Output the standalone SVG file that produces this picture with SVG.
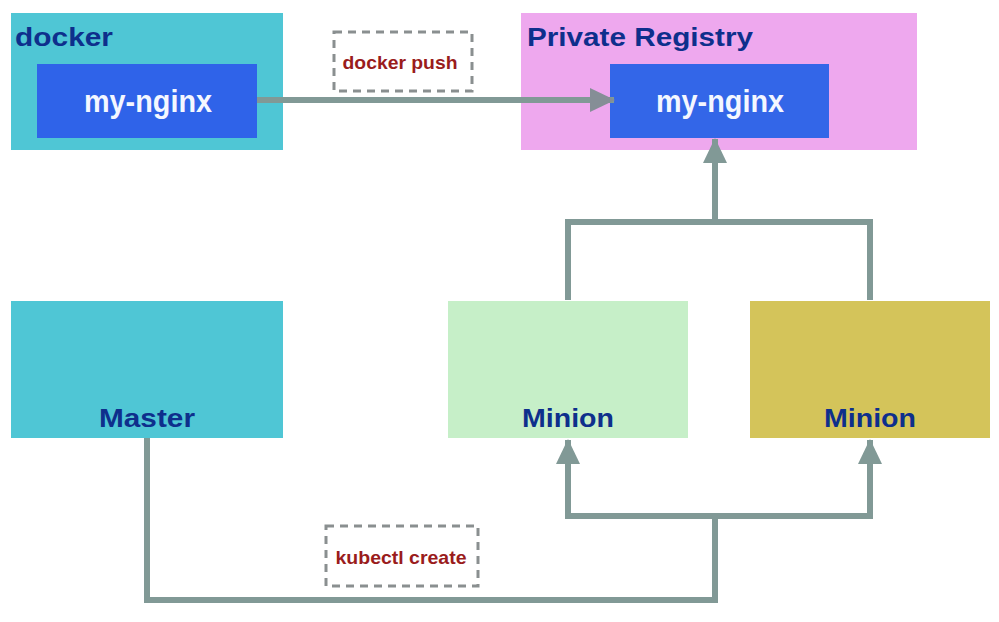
<svg xmlns="http://www.w3.org/2000/svg" width="999" height="622" viewBox="0 0 999 622">
<defs>
<style>
.title{font-family:"Liberation Sans",Arial,sans-serif;font-weight:bold;fill:#0E2F8C;font-size:26px}
.inner{font-family:"Liberation Sans",Arial,sans-serif;font-weight:bold;fill:#F4F7FF;font-size:31px;text-anchor:middle}
.lbl{font-family:"Liberation Sans",Arial,sans-serif;font-weight:bold;fill:#0E2F8C;font-size:26px;text-anchor:middle}
.cmd{font-family:"Liberation Sans",Arial,sans-serif;font-weight:bold;fill:#9A1C1C;font-size:19px;text-anchor:middle}
.dash{fill:#FFFFFF;stroke:#8A8F90;stroke-width:3;stroke-dasharray:8 6}
.wire{fill:none;stroke:#819996;stroke-width:6}
</style>
<marker id="ah" markerUnits="userSpaceOnUse" markerWidth="26" markerHeight="26" viewBox="0 0 26 26" refX="24" refY="13" orient="auto">
<polygon points="0,1 25,13 0,25" fill="#819996"/>
</marker>
<marker id="ah2" markerUnits="userSpaceOnUse" markerWidth="26" markerHeight="26" viewBox="0 0 26 26" refX="24" refY="13" orient="auto">
<polygon points="0,1 25,13 0,25" fill="#858E96"/>
</marker>
</defs>
<rect width="999" height="622" fill="#FFFFFF"/>

<g id="docker">
<rect x="11" y="13" width="272" height="137" fill="#4FC6D5"/>
<text class="title" x="15" y="46" textLength="98" lengthAdjust="spacingAndGlyphs">docker</text>
</g>
<g id="docker-my-nginx">
<rect x="37" y="64" width="220" height="74" fill="#2F63E9"/>
<text class="inner" x="148" y="112" textLength="128" lengthAdjust="spacingAndGlyphs">my-nginx</text>
</g>

<g id="registry">
<rect x="521" y="13" width="396" height="137" fill="#EEA8EE"/>
<text class="title" x="527" y="46" textLength="226" lengthAdjust="spacingAndGlyphs">Private Registry</text>
</g>
<g id="registry-my-nginx">
<rect x="610" y="64" width="219" height="74" fill="#3366E8"/>
<text class="inner" x="720" y="112" textLength="128" lengthAdjust="spacingAndGlyphs">my-nginx</text>
</g>

<g id="master">
<rect x="11" y="301" width="272" height="137" fill="#4FC6D5"/>
<text class="lbl" x="147" y="427" textLength="96" lengthAdjust="spacingAndGlyphs">Master</text>
</g>
<g id="minion1">
<rect x="448" y="301" width="240" height="137" fill="#C6EFC8"/>
<text class="lbl" x="568" y="427" textLength="92" lengthAdjust="spacingAndGlyphs">Minion</text>
</g>
<g id="minion2">
<rect x="750" y="301" width="240" height="137" fill="#D4C45A"/>
<text class="lbl" x="870" y="427" textLength="92" lengthAdjust="spacingAndGlyphs">Minion</text>
</g>

<g id="connectors">
<path class="wire" d="M257,100 H614" stroke="#858E96" marker-end="url(#ah2)"/>
<path class="wire" d="M568,300 V222 H870 V300"/>
<path class="wire" d="M715,222 V139" marker-end="url(#ah)"/>
<path class="wire" d="M147,438 V600 H715 V516"/>
<path class="wire" d="M565,516 H873"/>
<path class="wire" d="M568,519 V440" marker-end="url(#ah)"/>
<path class="wire" d="M870,519 V440" marker-end="url(#ah)"/>
</g>

<g id="label-docker-push">
<rect class="dash" x="334" y="32" width="138" height="59"/>
<text class="cmd" x="400" y="69" textLength="115" lengthAdjust="spacingAndGlyphs">docker push</text>
</g>
<g id="label-kubectl-create">
<rect class="dash" x="326" y="526" width="152" height="60"/>
<text class="cmd" x="401" y="564" textLength="131" lengthAdjust="spacingAndGlyphs">kubectl create</text>
</g>
</svg>
